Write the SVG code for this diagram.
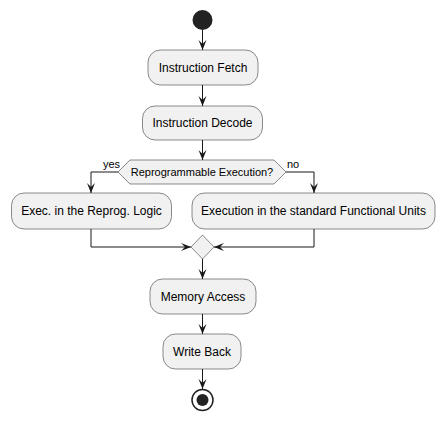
<svg xmlns="http://www.w3.org/2000/svg" width="446" height="421" viewBox="0 0 446 421">
<defs>
<style>
.box{fill:#F1F1F1;stroke:#181818;stroke-width:0.5}
.t{font-family:"Liberation Sans",Arial,sans-serif;font-size:12px;fill:#000}
.s{font-family:"Liberation Sans",Arial,sans-serif;font-size:11px;fill:#000}
.ln{fill:none;stroke:#181818;stroke-width:1}
.ah{fill:#181818;stroke:#181818;stroke-width:1}
</style>
<marker id="arr" viewBox="0 0 10 10" refX="10" refY="5" markerWidth="10" markerHeight="10" markerUnits="userSpaceOnUse" orient="auto">
<path d="M0,1 L10,5 L0,9 L4,5 Z" fill="#181818"/>
</marker>
</defs>
<rect width="446" height="421" fill="#FFFFFF"/>
<g id="connectors">
<line class="ln" x1="202.5" y1="30" x2="202.5" y2="50" marker-end="url(#arr)"/>
<line class="ln" x1="202.5" y1="85" x2="202.5" y2="106" marker-end="url(#arr)"/>
<line class="ln" x1="202.5" y1="140" x2="202.5" y2="160" marker-end="url(#arr)"/>
<polyline class="ln" points="118,172 91,172 91,193" marker-end="url(#arr)"/>
<polyline class="ln" points="286,172 314,172 314,193" marker-end="url(#arr)"/>
<polyline class="ln" points="91,229 91,247 191,247" marker-end="url(#arr)"/>
<polyline class="ln" points="314,229 314,247 214,247" marker-end="url(#arr)"/>
<line class="ln" x1="202.5" y1="259" x2="202.5" y2="279" marker-end="url(#arr)"/>
<line class="ln" x1="202.5" y1="314" x2="202.5" y2="334" marker-end="url(#arr)"/>
<line class="ln" x1="202.5" y1="369" x2="202.5" y2="389" marker-end="url(#arr)"/>
<text class="s" x="103" y="168">yes</text>
<text class="s" x="287" y="168">no</text>
</g>
<g id="start"><circle cx="202.5" cy="20" r="10" fill="#222222"/></g>
<g id="fetch"><rect class="box" x="148" y="50" width="110" height="35" rx="12.5"/><text class="t" x="203" y="71.5" text-anchor="middle">Instruction Fetch</text></g>
<g id="decode"><rect class="box" x="142.5" y="106" width="120" height="34" rx="12.5"/><text class="t" x="202.5" y="127" text-anchor="middle">Instruction Decode</text></g>
<g id="choice"><polygon class="box" points="118,172 130,160 274,160 286,172 274,184 130,184"/><text class="s" x="202" y="176" text-anchor="middle">Reprogrammable Execution?</text></g>
<g id="reprog"><rect class="box" x="11.5" y="193" width="160" height="36" rx="12.5"/><text class="t" x="91.5" y="215" text-anchor="middle">Exec. in the Reprog. Logic</text></g>
<g id="standard"><rect class="box" x="192" y="193" width="243" height="36" rx="12.5"/><text class="t" x="313.5" y="215" text-anchor="middle">Execution in the standard Functional Units</text></g>
<g id="merge"><polygon class="box" points="202.5,235 214,247 202.5,259 191,247"/></g>
<g id="memory"><rect class="box" x="150" y="279" width="106" height="35" rx="12.5"/><text class="t" x="203" y="300.5" text-anchor="middle">Memory Access</text></g>
<g id="writeback"><rect class="box" x="163" y="334" width="78" height="35" rx="12.5"/><text class="t" x="202" y="355.5" text-anchor="middle">Write Back</text></g>
<g id="end"><circle cx="202.5" cy="400" r="10.5" fill="none" stroke="#222222" stroke-width="1.5"/><circle cx="202.5" cy="400" r="6" fill="#222222"/></g>
</svg>
